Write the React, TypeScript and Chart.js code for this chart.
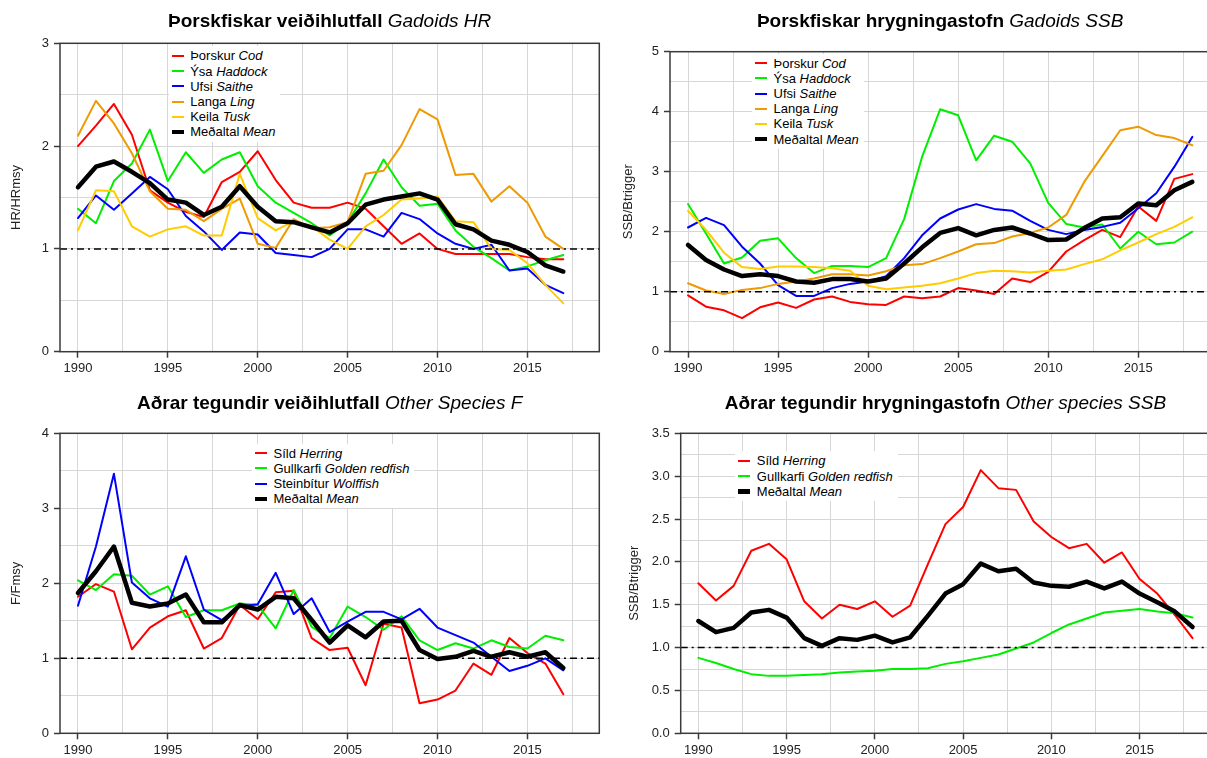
import React, { useEffect, useRef } from "react";
import { Chart, registerables } from "chart.js";

Chart.register(...registerables);

const FONT = '"Liberation Sans", Arial, Helvetica, sans-serif';

// ---------- categories ----------
const years1990to2017 = [1990, 1991, 1992, 1993, 1994, 1995, 1996, 1997, 1998, 1999, 2000, 2001, 2002, 2003, 2004, 2005, 2006, 2007, 2008, 2009, 2010, 2011, 2012, 2013, 2014, 2015, 2016, 2017];
const years1990to2018 = [1990, 1991, 1992, 1993, 1994, 1995, 1996, 1997, 1998, 1999, 2000, 2001, 2002, 2003, 2004, 2005, 2006, 2007, 2008, 2009, 2010, 2011, 2012, 2013, 2014, 2015, 2016, 2017, 2018];

// ---------- Gadoids HR ----------
const hrCod = [2.0, 2.2, 2.41, 2.11, 1.57, 1.45, 1.36, 1.31, 1.65, 1.75, 1.95, 1.67, 1.45, 1.4, 1.4, 1.45, 1.39, 1.22, 1.05, 1.15, 1.0, 0.95, 0.95, 0.95, 0.95, 0.92, 0.9, 0.9];
const hrHaddock = [1.39, 1.25, 1.66, 1.83, 2.16, 1.66, 1.94, 1.74, 1.87, 1.94, 1.61, 1.45, 1.35, 1.25, 1.13, 1.26, 1.54, 1.87, 1.6, 1.42, 1.44, 1.18, 1.02, 0.91, 0.79, 0.83, 0.89, 0.94];
const hrSaithe = [1.3, 1.52, 1.38, 1.54, 1.7, 1.58, 1.32, 1.17, 0.99, 1.16, 1.14, 0.96, 0.94, 0.92, 1.0, 1.19, 1.19, 1.12, 1.35, 1.29, 1.15, 1.05, 1.0, 1.04, 0.79, 0.81, 0.65, 0.57];
const hrLing = [2.1, 2.44, 2.22, 1.93, 1.56, 1.39, 1.38, 1.27, 1.39, 1.49, 1.05, 1.01, 1.29, 1.2, 1.21, 1.26, 1.73, 1.76, 2.01, 2.36, 2.26, 1.72, 1.73, 1.46, 1.61, 1.45, 1.12, 1.0];
const hrTusk = [1.18, 1.57, 1.56, 1.22, 1.12, 1.19, 1.22, 1.13, 1.13, 1.73, 1.3, 1.18, 1.27, 1.22, 1.09, 1.0, 1.22, 1.33, 1.48, 1.49, 1.51, 1.27, 1.26, 1.0, 0.99, 0.86, 0.65, 0.47];
const hrMean = [1.6, 1.8, 1.85, 1.75, 1.64, 1.48, 1.45, 1.33, 1.41, 1.61, 1.41, 1.27, 1.26, 1.21, 1.16, 1.25, 1.43, 1.48, 1.51, 1.54, 1.48, 1.24, 1.19, 1.08, 1.04, 0.97, 0.84, 0.78];

// ---------- Gadoids SSB ----------
const ssbCod = [0.94, 0.75, 0.69, 0.56, 0.74, 0.82, 0.73, 0.87, 0.92, 0.83, 0.79, 0.78, 0.92, 0.89, 0.92, 1.06, 1.02, 0.96, 1.22, 1.16, 1.33, 1.67, 1.86, 2.03, 1.91, 2.42, 2.18, 2.88, 2.96];
const ssbHaddock = [2.46, 1.97, 1.47, 1.57, 1.85, 1.89, 1.56, 1.31, 1.43, 1.43, 1.41, 1.56, 2.21, 3.25, 4.04, 3.94, 3.19, 3.6, 3.5, 3.14, 2.48, 2.13, 2.07, 2.12, 1.72, 2.0, 1.79, 1.82, 2.0];
const ssbSaithe = [2.07, 2.23, 2.11, 1.75, 1.47, 1.11, 0.93, 0.93, 1.06, 1.13, 1.17, 1.26, 1.56, 1.94, 2.22, 2.37, 2.46, 2.38, 2.35, 2.18, 2.03, 1.96, 2.03, 2.08, 2.15, 2.39, 2.64, 3.08, 3.58];
const ssbLing = [1.14, 1.02, 0.96, 1.03, 1.06, 1.13, 1.17, 1.22, 1.29, 1.29, 1.27, 1.34, 1.44, 1.46, 1.56, 1.67, 1.79, 1.81, 1.92, 1.98, 2.07, 2.28, 2.83, 3.26, 3.69, 3.75, 3.61, 3.56, 3.44];
const ssbTusk = [2.35, 2.03, 1.65, 1.41, 1.38, 1.42, 1.42, 1.41, 1.39, 1.35, 1.1, 1.04, 1.07, 1.1, 1.14, 1.22, 1.31, 1.35, 1.34, 1.32, 1.35, 1.37, 1.46, 1.54, 1.69, 1.82, 1.96, 2.08, 2.24];
const ssbMean = [1.78, 1.53, 1.37, 1.26, 1.29, 1.26, 1.17, 1.15, 1.21, 1.21, 1.17, 1.22, 1.47, 1.74, 1.98, 2.06, 1.94, 2.03, 2.07, 1.97, 1.86, 1.87, 2.06, 2.22, 2.24, 2.47, 2.44, 2.69, 2.83];

// ---------- Other species F ----------
const fHerring = [1.82, 1.99, 1.89, 1.12, 1.41, 1.56, 1.64, 1.13, 1.27, 1.71, 1.52, 1.88, 1.9, 1.27, 1.11, 1.14, 0.64, 1.46, 1.41, 0.4, 0.45, 0.57, 0.93, 0.78, 1.27, 1.07, 0.93, 0.52];
const fRedfish = [2.04, 1.91, 2.12, 2.1, 1.85, 1.96, 1.55, 1.64, 1.64, 1.73, 1.71, 1.4, 1.91, 1.42, 1.27, 1.69, 1.55, 1.38, 1.56, 1.24, 1.11, 1.2, 1.13, 1.24, 1.15, 1.13, 1.3, 1.24];
const fWolffish = [1.7, 2.49, 3.46, 2.01, 1.8, 1.69, 2.36, 1.65, 1.51, 1.69, 1.72, 2.14, 1.59, 1.8, 1.35, 1.49, 1.62, 1.62, 1.52, 1.66, 1.41, 1.31, 1.21, 1.02, 0.83, 0.9, 1.0, 0.84];
const fMean = [1.87, 2.16, 2.49, 1.74, 1.69, 1.73, 1.85, 1.48, 1.48, 1.71, 1.65, 1.82, 1.8, 1.51, 1.21, 1.44, 1.28, 1.49, 1.5, 1.11, 0.99, 1.02, 1.1, 1.02, 1.08, 1.02, 1.08, 0.87];

// ---------- Other species SSB ----------
const oHerring = [1.75, 1.55, 1.72, 2.13, 2.21, 2.03, 1.54, 1.34, 1.5, 1.45, 1.54, 1.36, 1.49, 1.97, 2.44, 2.64, 3.07, 2.86, 2.84, 2.47, 2.29, 2.16, 2.21, 1.99, 2.11, 1.8, 1.63, 1.38, 1.11];
const oRedfish = [0.88, 0.82, 0.75, 0.69, 0.67, 0.67, 0.68, 0.69, 0.71, 0.72, 0.73, 0.75, 0.75, 0.76, 0.81, 0.84, 0.88, 0.92, 0.99, 1.06, 1.17, 1.27, 1.34, 1.41, 1.43, 1.45, 1.42, 1.4, 1.35];
const oMean = [1.31, 1.18, 1.23, 1.41, 1.44, 1.35, 1.11, 1.02, 1.11, 1.09, 1.14, 1.06, 1.12, 1.37, 1.63, 1.74, 1.98, 1.89, 1.92, 1.76, 1.72, 1.71, 1.77, 1.69, 1.77, 1.63, 1.53, 1.42, 1.24];

// ---------- ticks ----------
const xGridYears = [1990, 1992.5, 1995, 1997.5, 2000, 2002.5, 2005, 2007.5, 2010, 2012.5, 2015, 2017.5];
const xLabelYears = [1990, 1995, 2000, 2005, 2010, 2015];
const yGridHR = [0, 0.5, 1, 1.5, 2, 2.5, 3];
const yLabelsHR = [0, 1, 2, 3];
const yGridSSB = [0, 0.5, 1, 1.5, 2, 2.5, 3, 3.5, 4, 4.5, 5];
const yLabelsSSB = [0, 1, 2, 3, 4, 5];
const yGridF = [0, 0.5, 1, 1.5, 2, 2.5, 3, 3.5, 4];
const yLabelsF = [0, 1, 2, 3, 4];
const yGridOSSB = [0, 0.25, 0.5, 0.75, 1, 1.25, 1.5, 1.75, 2, 2.25, 2.5, 2.75, 3, 3.25, 3.5];
const yLabelsOSSB = [0, 0.5, 1, 1.5, 2, 2.5, 3, 3.5];

const RED = "#ff0000";
const GREEN = "#00ee00";
const BLUE = "#0000ff";
const ORANGE = "#ee9a00";
const GOLD = "#ffcc00";
const BLACK = "#000000";

type SeriesDef = { is: string; en: string; color: string; width: number; values: number[] };
type PanelDef = {
  titleIs: string;
  titleEn: string;
  rect: { x: number; y: number; w: number; h: number };
  area: { l: number; t: number; r: number; b: number };
  titleBaseline: number;
  years: number[];
  series: SeriesDef[];
  yMax: number;
  yGrid: number[];
  yLabels: number[];
  yDigits: number;
  yTitle: string;
  yTitleX: number;
  legendX: number;
  legendY: number;
};

const gadoidSeries = (v: number[][]): SeriesDef[] => [
  { is: "Þorskur", en: "Cod", color: RED, width: 2, values: v[0] },
  { is: "Ýsa", en: "Haddock", color: GREEN, width: 2, values: v[1] },
  { is: "Ufsi", en: "Saithe", color: BLUE, width: 2, values: v[2] },
  { is: "Langa", en: "Ling", color: ORANGE, width: 2, values: v[3] },
  { is: "Keila", en: "Tusk", color: GOLD, width: 2, values: v[4] },
  { is: "Meðaltal", en: "Mean", color: BLACK, width: 4.5, values: v[5] },
];

const panels: PanelDef[] = [
  {
    titleIs: "Þorskfiskar veiðihlutfall",
    titleEn: "Gadoids HR",
    rect: { x: 0, y: 0, w: 604, h: 382 },
    area: { l: 60, t: 43.3, r: 599.3, b: 351.7 },
    titleBaseline: 27.3,
    years: years1990to2017,
    series: gadoidSeries([hrCod, hrHaddock, hrSaithe, hrLing, hrTusk, hrMean]),
    yMax: 3,
    yGrid: yGridHR,
    yLabels: yLabelsHR,
    yDigits: 0,
    yTitle: "HR/HRmsy",
    yTitleX: 16,
    legendX: 171.7,
    legendY: 56,
  },
  {
    titleIs: "Þorskfiskar hrygningastofn",
    titleEn: "Gadoids SSB",
    rect: { x: 604, y: 0, w: 616, h: 382 },
    area: { l: 670, t: 51.7, r: 1210.3, b: 351.7 },
    titleBaseline: 27.3,
    years: years1990to2018,
    series: gadoidSeries([ssbCod, ssbHaddock, ssbSaithe, ssbLing, ssbTusk, ssbMean]),
    yMax: 5,
    yGrid: yGridSSB,
    yLabels: yLabelsSSB,
    yDigits: 0,
    yTitle: "SSB/Btrigger",
    yTitleX: 628,
    legendX: 755,
    legendY: 63.3,
  },
  {
    titleIs: "Aðrar tegundir veiðihlutfall",
    titleEn: "Other Species F",
    rect: { x: 0, y: 382, w: 604, h: 378 },
    area: { l: 60, t: 433.3, r: 599.3, b: 733.3 },
    titleBaseline: 409.3,
    years: years1990to2017,
    series: [
      { is: "Síld", en: "Herring", color: RED, width: 2, values: fHerring },
      { is: "Gullkarfi", en: "Golden redfish", color: GREEN, width: 2, values: fRedfish },
      { is: "Steinbítur", en: "Wolffish", color: BLUE, width: 2, values: fWolffish },
      { is: "Meðaltal", en: "Mean", color: BLACK, width: 4.5, values: fMean },
    ],
    yMax: 4,
    yGrid: yGridF,
    yLabels: yLabelsF,
    yDigits: 0,
    yTitle: "F/Fmsy",
    yTitleX: 16,
    legendX: 255,
    legendY: 453.3,
  },
  {
    titleIs: "Aðrar tegundir hrygningastofn",
    titleEn: "Other species SSB",
    rect: { x: 604, y: 382, w: 616, h: 378 },
    area: { l: 680.7, t: 433.3, r: 1210.2, b: 733.3 },
    titleBaseline: 409.3,
    years: years1990to2018,
    series: [
      { is: "Síld", en: "Herring", color: RED, width: 2, values: oHerring },
      { is: "Gullkarfi", en: "Golden redfish", color: GREEN, width: 2, values: oRedfish },
      { is: "Meðaltal", en: "Mean", color: BLACK, width: 4.5, values: oMean },
    ],
    yMax: 3.5,
    yGrid: yGridOSSB,
    yLabels: yLabelsOSSB,
    yDigits: 1,
    yTitle: "SSB/Btrigger",
    yTitleX: 634,
    legendX: 738.3,
    legendY: 461,
  },
];

const X_MIN = 1989;
const X_MAX = 2019;
const FRAME = "#3a3a3a";
const GRID = "#d6d6d6";
const TEXT = "#222222";

const framePlugin = {
  id: "frameBox",
  afterDatasetsDraw(chart: any) {
    const { ctx, chartArea } = chart;
    ctx.save();
    ctx.strokeStyle = FRAME;
    ctx.lineWidth = 1.5;
    ctx.strokeRect(chartArea.left, chartArea.top, chartArea.right - chartArea.left, chartArea.bottom - chartArea.top);
    ctx.restore();
  },
};

const isIn = (list: number[], v: number) => list.some((l) => Math.abs(l - v) < 1e-9);

function Panel({ def }: { def: PanelDef }) {
  const ref = useRef<HTMLCanvasElement>(null);
  useEffect(() => {
    if (!ref.current) return;
    const { rect, area } = def;
    const n = def.series.length;
    const datasets: any[] = [
      {
        label: "ref",
        data: [
          { x: X_MIN, y: 1 },
          { x: X_MAX, y: 1 },
        ],
        borderColor: "#000",
        borderWidth: 1.5,
        borderDash: [7, 4, 2, 4],
        pointRadius: 0,
        order: 0,
      },
      ...def.series.map((s, i) => ({
        label: s.en,
        data: def.years.map((yr, j) => ({ x: yr, y: s.values[j] })),
        borderColor: s.color,
        backgroundColor: s.color,
        borderWidth: s.width,
        pointRadius: 0,
        tension: 0,
        borderJoinStyle: "round",
        borderCapStyle: "round",
        order: n - i,
      })),
    ];
    const chart = new Chart(ref.current, {
      type: "line",
      data: { datasets },
      plugins: [framePlugin],
      options: {
        animation: false,
        responsive: false,
        maintainAspectRatio: false,
        layout: {
          padding: { top: area.t - rect.y, right: rect.x + rect.w - area.r, bottom: 0, left: 0 },
        },
        plugins: {
          legend: { display: false },
          title: { display: false },
          tooltip: { enabled: false },
        },
        scales: {
          x: {
            type: "linear",
            min: X_MIN,
            max: X_MAX,
            afterBuildTicks: (axis: any) => {
              axis.ticks = xGridYears.map((v) => ({ value: v }));
            },
            afterFit: (scale: any) => {
              scale.height = rect.y + rect.h - area.b;
            },
            border: { display: false },
            grid: {
              color: GRID,
              lineWidth: 1,
              tickLength: 6,
              tickWidth: 1.5,
              tickColor: (ctx: any) => (ctx.tick && isIn(xLabelYears, ctx.tick.value) ? FRAME : "rgba(0,0,0,0)"),
            },
            ticks: {
              autoSkip: false,
              maxRotation: 0,
              padding: 3,
              color: TEXT,
              font: { family: FONT, size: 13 },
              callback: (v: any) => (isIn(xLabelYears, Number(v)) ? String(v) : ""),
            },
          },
          y: {
            type: "linear",
            min: 0,
            max: def.yMax,
            afterBuildTicks: (axis: any) => {
              axis.ticks = def.yGrid.map((v) => ({ value: v }));
            },
            afterFit: (scale: any) => {
              scale.width = area.l - rect.x;
            },
            border: { display: false },
            grid: {
              color: GRID,
              lineWidth: 1,
              tickLength: 6,
              tickWidth: 1.5,
              tickColor: (ctx: any) => (ctx.tick && isIn(def.yLabels, ctx.tick.value) ? FRAME : "rgba(0,0,0,0)"),
            },
            ticks: {
              autoSkip: false,
              padding: 5,
              color: TEXT,
              font: { family: FONT, size: 13 },
              callback: (v: any) => (isIn(def.yLabels, Number(v)) ? Number(v).toFixed(def.yDigits) : ""),
            },
            title: {
              display: true,
              text: def.yTitle,
              color: TEXT,
              font: { family: FONT, size: 13 },
              padding: { top: def.yTitleX - rect.x - 7.8, bottom: 0 },
            },
          },
        },
      } as any,
    });
    return () => chart.destroy();
  }, [def]);

  const { rect, area } = def;
  const cx = (area.l + area.r) / 2;
  const rowH = 15.2;
  return (
    <>
      <canvas
        ref={ref}
        width={rect.w}
        height={rect.h}
        style={{ position: "absolute", left: rect.x, top: rect.y, width: rect.w, height: rect.h }}
      />
      <div
        style={{
          position: "absolute",
          left: cx,
          top: def.titleBaseline - 16,
          transform: "translateX(-50%)",
          whiteSpace: "nowrap",
          fontFamily: FONT,
          fontSize: 19,
          lineHeight: "19px",
          color: "#000",
        }}
      >
        <span style={{ fontWeight: "bold" }}>{def.titleIs}</span> <span style={{ fontStyle: "italic" }}>{def.titleEn}</span>
      </div>
      <div
        style={{
          position: "absolute",
          left: def.legendX - 3,
          top: def.legendY - rowH / 2 - 2,
          background: "#fff",
          padding: "2px 5px 2px 3px",
          fontFamily: FONT,
          fontSize: 13,
          lineHeight: rowH + "px",
          color: "#000",
        }}
      >
        {def.series.map((s) => (
          <div key={s.en} style={{ display: "flex", alignItems: "center", height: rowH, whiteSpace: "nowrap" }}>
            <span
              style={{
                display: "inline-block",
                width: 12,
                height: s.width > 3 ? 4.5 : 2,
                background: s.color,
                marginRight: 6.5,
              }}
            />
            <span>
              {s.is} <span style={{ fontStyle: "italic" }}>{s.en}</span>
            </span>
          </div>
        ))}
      </div>
    </>
  );
}

export default function App() {
  return (
    <div
      style={{
        position: "fixed",
        left: 0,
        top: 0,
        width: 1207,
        height: 758,
        overflow: "hidden",
        background: "#fff",
      }}
    >
      {panels.map((p) => (
        <Panel key={p.titleEn} def={p} />
      ))}
    </div>
  );
}
